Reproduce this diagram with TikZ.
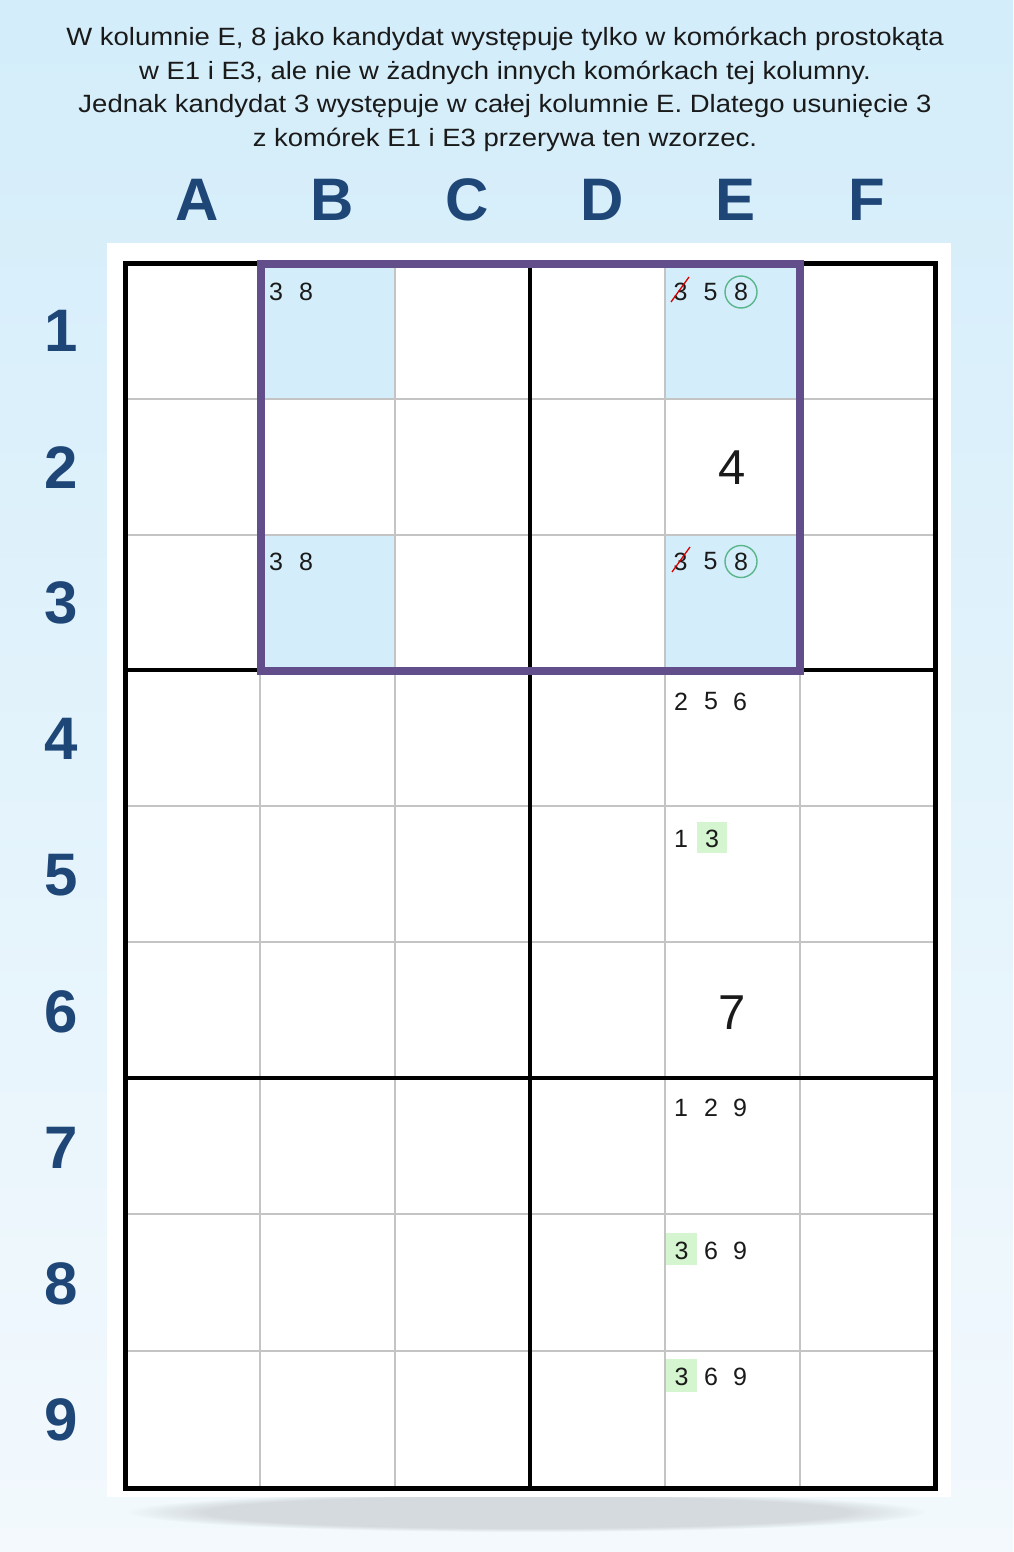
\documentclass[tikz,border=0pt]{standalone}
\usepackage{fontspec}
\setmainfont{Liberation Sans}
\usetikzlibrary{fadings}
\definecolor{bgtop}{HTML}{D3EDFA}
\definecolor{bgbot}{HTML}{F3F9FD}
\definecolor{lab}{HTML}{1E4677}
\definecolor{purp}{HTML}{634E8C}
\definecolor{cellblue}{HTML}{D3EEFA}
\definecolor{hlgreen}{HTML}{D4F5CF}
\definecolor{circgreen}{HTML}{5AB58A}
\definecolor{gridgray}{HTML}{C4C4C4}
\definecolor{txt}{HTML}{1A1A1A}
\tikzset{
  headlabel/.style={font=\fontsize{60}{60}\selectfont\bfseries, text=lab, inner sep=0pt},
  cand/.style={font=\fontsize{25}{25}\selectfont, text=txt, inner sep=0pt},
  given/.style={font=\fontsize{49}{49}\selectfont, text=txt, inner sep=0pt},
  thin grid/.style={draw=gridgray, line width=1.5pt},
  box line/.style={draw=black, line width=4.5pt},
  hilite/.style={fill=hlgreen},
  strike/.style={draw=red!85!black, line width=1.3pt},
  ring/.style={draw=circgreen, line width=1.4pt}
}
\begin{document}
\begin{tikzpicture}[x=1pt,y=-1pt]
\useasboundingbox (0,0) rectangle (1013,1552);
\shade[top color=bgtop, bottom color=bgbot] (0,0) rectangle (1013,1552);

% title
\node[text=txt, inner sep=0pt] (title) at (505,89.5)
  {\fontsize{25}{33.5}\selectfont\scalebox{1.1}[1]{\begin{tabular}{@{}c@{}}
   W kolumnie E, 8 jako kandydat występuje tylko w komórkach prostokąta\\
   w E1 i E3, ale nie w żadnych innych komórkach tej kolumny.\\
   Jednak kandydat 3 występuje w całej kolumnie E. Dlatego usunięcie 3\\
   z komórek E1 i E3 przerywa ten wzorzec.\end{tabular}}};

% column labels
\foreach \L/\cx in {A/197,B/332,C/467,D/602,E/735,F/867}
  \node[headlabel] (col-\L) at (\cx,200) {\L};
% row labels
\foreach \r in {1,...,9}
  \node[headlabel] (row-\r) at (61,{263+136.1*(\r-0.5)}) {\r};

% shadow and panel
\fill[black, opacity=0.12, path fading=circle with fuzzy edge 20 percent] (527,1512) ellipse (400 and 20);
\fill[white] (107,243) rectangle (951,1497);

% highlighted cells
\fill[cellblue] (260,263) rectangle (395,399);
\fill[cellblue] (665,263) rectangle (800,399);
\fill[cellblue] (260,535) rectangle (395,670);
\fill[cellblue] (665,535) rectangle (800,670);

% thin grid
\foreach \x in {260,395,665,800}
  \draw[thin grid] (\x,263) -- (\x,1488);
\foreach \y in {399,535,806,942,1214,1351}
  \draw[thin grid] (125,\y) -- (935,\y);

% thick box lines
\draw[box line] (530,263) -- (530,1488);
\draw[box line] (125,670) -- (935,670);
\draw[box line] (125,1078) -- (935,1078);
\draw[draw=black, line width=5pt] (125,263) rectangle (935,1488);

% purple rectangle
\draw[draw=purp, line width=8pt] (260.5,264) rectangle (800,671);

% green highlights
\fill[hilite] (697,822) rectangle (727,853);
\fill[hilite] (666,1233) rectangle (697,1265);
\fill[hilite] (666,1359) rectangle (697,1392);

% candidates B1, B3
\node[cand] (b1-3) at (276,291.5) {3};
\node[cand] (b1-8) at (306,291.5) {8};
\node[cand] (b3-3) at (276,561.5) {3};
\node[cand] (b3-8) at (306,561.5) {8};

% E1
\node[cand] (e1-3) at (680.5,292) {3};
\node[cand] (e1-5) at (710.5,292) {5};
\node[cand] (e1-8) at (741,292) {8};
\draw[ring] (e1-8.center) circle (16);
\draw[strike] (671,302) -- (689,277);
% E3
\node[cand] (e3-3) at (680.5,561.5) {3};
\node[cand] (e3-5) at (710.5,561.5) {5};
\node[cand] (e3-8) at (741,561.5) {8};
\draw[ring] (e3-8.center) circle (16);
\draw[strike] (672,572) -- (690,547);

% E2 given
\node[given] (e2) at (732.5,468) {4};
% E4
\node[cand] (e4-2) at (681,701.5) {2};
\node[cand] (e4-5) at (711,701.5) {5};
\node[cand] (e4-6) at (740,701.5) {6};
% E5
\node[cand] (e5-1) at (681,839) {1};
\node[cand] (e5-3) at (712,839) {3};
% E6 given
\node[given] (e6) at (732.5,1013) {7};
% E7
\node[cand] (e7-1) at (681,1108) {1};
\node[cand] (e7-2) at (711,1108) {2};
\node[cand] (e7-9) at (740,1108) {9};
% E8
\node[cand] (e8-3) at (681.5,1250.5) {3};
\node[cand] (e8-6) at (711,1250.5) {6};
\node[cand] (e8-9) at (740,1250.5) {9};
% E9
\node[cand] (e9-3) at (681.5,1376.5) {3};
\node[cand] (e9-6) at (711,1376.5) {6};
\node[cand] (e9-9) at (740,1376.5) {9};
\end{tikzpicture}
\end{document}
